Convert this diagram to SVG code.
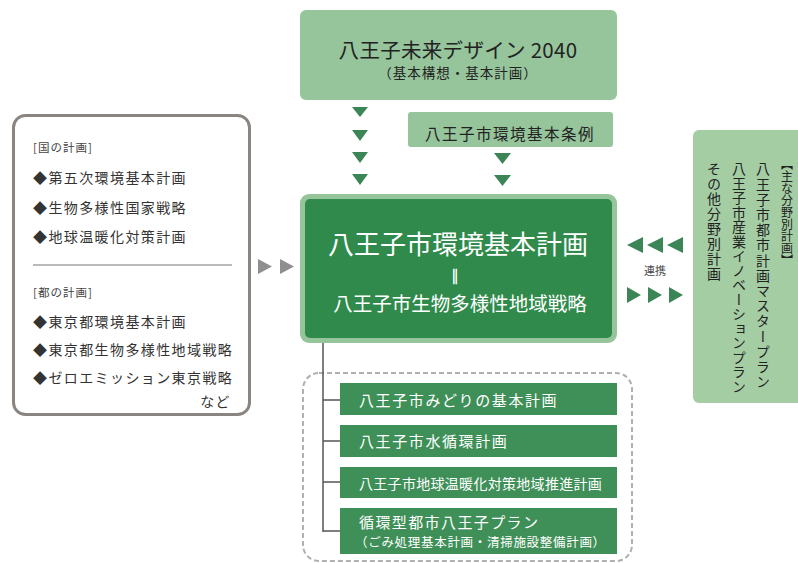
<svg xmlns="http://www.w3.org/2000/svg" width="798" height="563" viewBox="0 0 798 563">
<defs>
<style>
text{font-family:"Noto Sans CJK JP","Noto Sans",sans-serif;}
.lt{fill:#96c49b;}
.dk{fill:#2f8a4c;}
.sub{fill:#3f9058;}
.tri{fill:#3b8557;}
.gtri{fill:#8f8f8f;}
.w{fill:#ffffff;}
.b{fill:#222222;}
.l{fill:#333333;font-size:14px;letter-spacing:1.4px;}
.hd{fill:#444444;font-size:11.5px;letter-spacing:1px;}
.st{fill:#ffffff;}
.v{writing-mode:vertical-rl;fill:#222222;}
</style>
</defs>
<rect width="798" height="563" fill="#ffffff"/>

<g id="vision">
<rect x="300" y="10" width="317" height="90" rx="6" class="lt"/>
<text x="458" y="58" text-anchor="middle" style="font-size:20.5px;letter-spacing:0.3px" class="b">八王子未来デザイン 2040</text>
<text x="458" y="78" text-anchor="middle" style="font-size:13.5px;letter-spacing:1px" class="b">（基本構想・基本計画）</text>
</g>

<g id="ordinance">
<rect x="408" y="112" width="205" height="35" rx="3" class="lt"/>
<text x="510" y="140" text-anchor="middle" font-size="15.5" letter-spacing="1.5" class="b">八王子市環境基本条例</text>
</g>

<g id="national">
<rect x="13.5" y="115.5" width="236" height="299" rx="12" fill="#ffffff" stroke="#8a8580" stroke-width="3"/>
<text x="33" y="152" class="hd">[国の計画]</text>
<text x="33" y="183" class="l">◆第五次環境基本計画</text>
<text x="33" y="213" class="l">◆生物多様性国家戦略</text>
<text x="33" y="242" class="l">◆地球温暖化対策計画</text>
<line x1="33" y1="265" x2="232" y2="265" stroke="#777777" stroke-width="1"/>
<text x="33" y="297" class="hd">[都の計画]</text>
<text x="33" y="327" class="l">◆東京都環境基本計画</text>
<text x="33" y="355" class="l">◆東京都生物多様性地域戦略</text>
<text x="33" y="383" class="l">◆ゼロエミッション東京戦略</text>
<text x="231" y="407" text-anchor="end" class="l">など</text>
</g>

<g id="main">
<rect x="300" y="194" width="317" height="149" rx="9" class="lt"/>
<rect x="305" y="199" width="307" height="139" rx="5" class="dk"/>
<text x="458" y="254" text-anchor="middle" font-size="26" class="w">八王子市環境基本計画</text>
<text x="455" y="282" text-anchor="middle" font-size="15" font-weight="bold" stroke="#ffffff" stroke-width="0.6" class="w">‖</text>
<text x="460" y="311" text-anchor="middle" font-size="19.5" class="w">八王子市生物多様性地域戦略</text>
</g>

<g id="sectoral">
<rect x="693" y="130" width="110" height="273" rx="6" fill="#a4cda4"/>
<text x="787" y="158" font-size="12" class="v">【主な分野別計画】</text>
<text x="763" y="162" font-size="14" letter-spacing="1.2" class="v">八王子市都市計画マスタープラン</text>
<text x="739" y="162" font-size="14" letter-spacing="0.5" class="v">八王子市産業イノベーションプラン</text>
<text x="714" y="162" font-size="14" letter-spacing="1" class="v">その他分野別計画</text>
</g>

<g id="sub-plans">
<rect x="303" y="373" width="329" height="188" rx="16" fill="none" stroke="#b0b0b0" stroke-width="2" stroke-dasharray="5 3"/>
<g id="plan-green">
<rect x="340" y="383" width="277" height="32" class="sub"/>
<text x="359" y="406" class="st" style="font-size:15px;letter-spacing:1.6px">八王子市みどりの基本計画</text>
</g>
<g id="plan-water">
<rect x="340" y="425" width="277" height="32" class="sub"/>
<text x="359" y="447" class="st" style="font-size:15px;letter-spacing:1.6px">八王子市水循環計画</text>
</g>
<g id="plan-climate">
<rect x="340" y="467" width="277" height="31" class="sub"/>
<text x="359" y="489" class="st" style="font-size:14px;letter-spacing:0.3px">八王子市地球温暖化対策地域推進計画</text>
</g>
<g id="plan-circular">
<rect x="340" y="508" width="277" height="46" class="sub"/>
<text x="359" y="528" class="st" style="font-size:15px;letter-spacing:1.4px">循環型都市八王子プラン</text>
<text x="355" y="547" class="st" style="font-size:12.5px;letter-spacing:0.7px">（ごみ処理基本計画・清掃施設整備計画）</text>
</g>
</g>

<g id="connectors">
<g class="tri">
<polygon points="352,107 368,107 360,117"/>
<polygon points="352,130 368,130 360,141"/>
<polygon points="352,152 368,152 360,163"/>
<polygon points="352,174 368,174 360,185"/>
<polygon points="494,153 511,153 502.5,164"/>
<polygon points="494,175 511,175 502.5,186"/>
<polygon points="627,245 643,237 643,253"/>
<polygon points="647,245 663,237 663,253"/>
<polygon points="667,245 683,237 683,253"/>
<polygon points="627,287 641,295 627,303"/>
<polygon points="648,287 662,295 648,303"/>
<polygon points="669,287 683,295 669,303"/>
</g>
<text x="655" y="275" text-anchor="middle" font-size="11" fill="#444444">連携</text>
<g class="gtri">
<polygon points="258,259 272,266.5 258,274"/>
<polygon points="280,259 294,266.5 280,274"/>
</g>
<g stroke="#555555" stroke-width="1.5" fill="none">
<line x1="323" y1="343" x2="323" y2="532"/>
<line x1="323" y1="400" x2="340" y2="400"/>
<line x1="323" y1="441" x2="340" y2="441"/>
<line x1="323" y1="482" x2="340" y2="482"/>
<line x1="323" y1="531" x2="340" y2="531"/>
</g>
</g>
</svg>
